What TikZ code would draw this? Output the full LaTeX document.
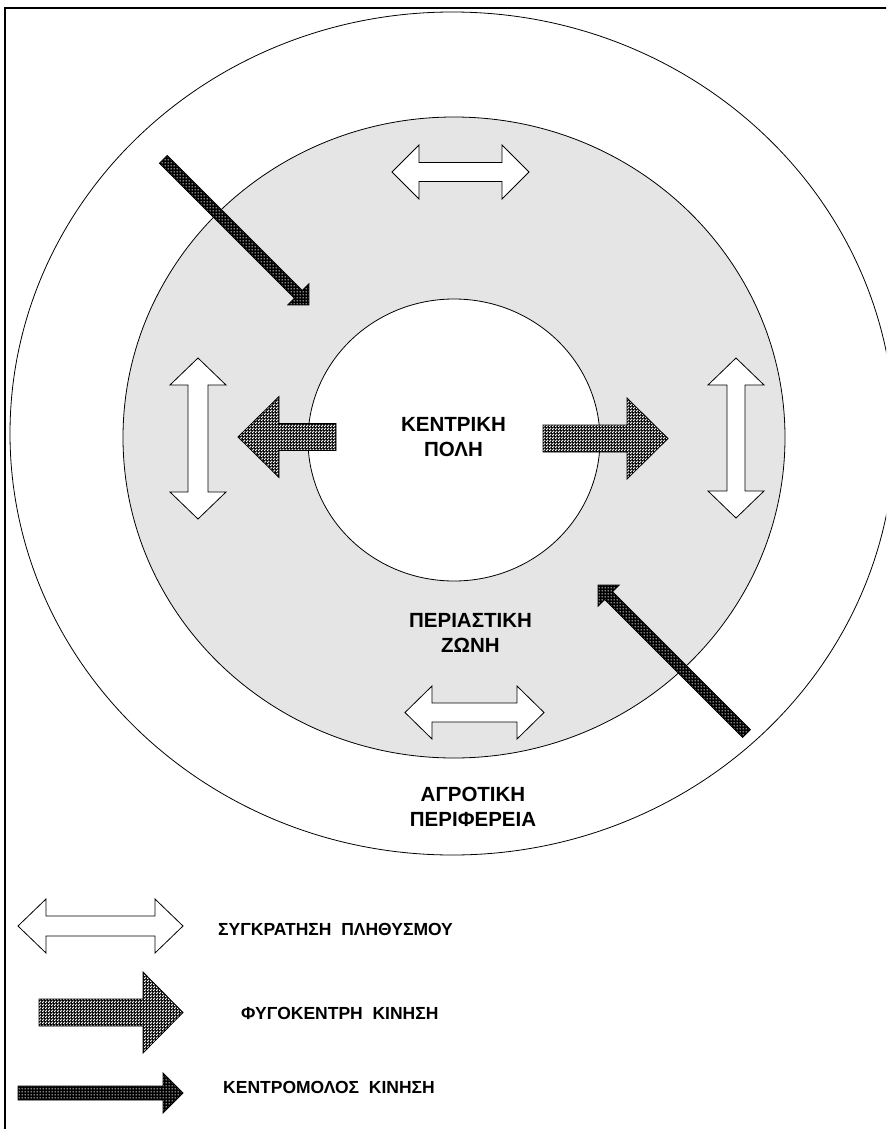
\documentclass[tikz,border=0pt]{standalone}
\usepackage{fontspec}
\setmainfont{Liberation Sans}
\usetikzlibrary{patterns,shapes.geometric}

% open diagonal chequer for outward movement
\pgfdeclarepatternformonly{lightcheck}{\pgfqpoint{0pt}{0pt}}{\pgfqpoint{3pt}{3pt}}{\pgfqpoint{3pt}{3pt}}{%
  \pgfpathcircle{\pgfqpoint{0.75pt}{0.75pt}}{1.0pt}%
  \pgfpathcircle{\pgfqpoint{2.25pt}{2.25pt}}{1.0pt}%
  \pgfusepath{fill}}
% dense dark screen for inward movement
\pgfdeclarepatternformonly{darkcheck}{\pgfqpoint{0pt}{0pt}}{\pgfqpoint{2.6pt}{2.6pt}}{\pgfqpoint{2.6pt}{2.6pt}}{%
  \pgfpathcircle{\pgfqpoint{1.3pt}{1.3pt}}{0.75pt}%
  \pgfusepath{fill}}

\definecolor{ringgray}{RGB}{229,229,229}

\tikzset{
  zone/.style={ellipse, draw=black, line width=0.8pt, inner sep=0pt},
  label/.style={font=\bfseries\fontsize{20.5}{25}\selectfont, align=center, inner sep=0pt},
  legendtext/.style={font=\bfseries\fontsize{17.5}{20}\selectfont, anchor=west, inner sep=0pt},
  holdarrow/.style={draw=black, line width=0.8pt, fill=white, line join=miter},
  outarrow/.style={draw=black, line width=0.8pt, preaction={fill=black}, pattern=lightcheck, pattern color=white},
  inarrow/.style={draw=black, line width=0.8pt, preaction={fill=black}, pattern=darkcheck, pattern color=white},
  % one-headed block arrow: style, length, shaft half-width, head half-width, head length
  pics/blockarrow/.style n args={5}{code={
    \path[#1] (0,-#3) -- ({#2-#5},-#3) -- ({#2-#5},-#4) -- (#2,0)
      -- ({#2-#5},#4) -- ({#2-#5},#3) -- (0,#3) -- cycle;
  }},
  % two-headed block arrow centred on its position
  pics/twinarrow/.style n args={4}{code={
    \path[holdarrow] ({-#1/2},0) -- ({-#1/2+#4},-#3) -- ({-#1/2+#4},-#2)
      -- ({#1/2-#4},-#2) -- ({#1/2-#4},-#3) -- ({#1/2},0) -- ({#1/2-#4},#3)
      -- ({#1/2-#4},#2) -- ({-#1/2+#4},#2) -- ({-#1/2+#4},#3) -- cycle;
  }},
}

\begin{document}
\begin{tikzpicture}[x=1pt,y=-1pt]
\useasboundingbox (0,0) rectangle (886,1129);
\clip (0,0) rectangle (886,1129);
\fill[white] (0,0) rectangle (886,1129);

% frame
\draw[line width=2.2pt] (5,1140) -- (5,8) -- (900,8);

% zones
\node[zone, minimum width=884.6pt, minimum height=843pt] (rural) at (452.3,433.5) {};
\node[zone, fill=ringgray, minimum width=662pt, minimum height=641pt] (ring) at (454,437.5) {};
\node[zone, fill=white, minimum width=292pt, minimum height=282pt] (city) at (454,440) {};

% population retention inside the ring
\pic (holdTop) at (460.5,172) {twinarrow={137}{9.5}{27}{27}};
\pic (holdBottom) at (474.5,712.5) {twinarrow={139}{9.5}{26.5}{27}};
\pic[rotate=90] (holdLeft) at (198,438.5) {twinarrow={161}{10}{28}{27}};
\pic[rotate=90] (holdRight) at (736,438) {twinarrow={160}{9}{28}{27}};

% outward movement from the city
\pic (outRight) at (543,438.5) {blockarrow={outarrow}{125}{13.5}{40.5}{41}};
\pic[rotate=180] (outLeft) at (336,437) {blockarrow={outarrow}{98}{13.5}{40.5}{41}};

% inward movement towards the city
\pic[rotate=-45] (inTop) at (163.3,159.3) {blockarrow={inarrow}{206}{5.5}{15}{15}};
\pic[rotate=135] (inBottom) at (746.5,733.5) {blockarrow={inarrow}{210}{5.5}{15}{15}};

% zone names
\node[label] (cityName) at (453.5,437.5) {ΚΕΝΤΡΙΚΗ\\ΠΟΛΗ};
\node[label] (ringName) at (470.5,632.5) {ΠΕΡΙΑΣΤΙΚΗ\\ΖΩΝΗ};
\node[label] (ruralName) at (473,807) {ΑΓΡΟΤΙΚΗ\\ΠΕΡΙΦΕΡΕΙΑ};

% legend
\pic (keyHold) at (100.5,926) {twinarrow={165}{10}{27}{28}};
\pic (keyOut) at (39,1012.5) {blockarrow={outarrow}{144}{13.5}{40.5}{40}};
\pic (keyIn) at (18,1093) {blockarrow={inarrow}{165}{7}{20}{20}};
\node[legendtext] (keyHoldText) at (218,929.5) {ΣΥΓΚΡΑΤΗΣΗ\ \ ΠΛΗΘΥΣΜΟΥ};
\node[legendtext] (keyOutText) at (241,1013.5) {ΦΥΓΟΚΕΝΤΡΗ\ \ ΚΙΝΗΣΗ};
\node[legendtext] (keyInText) at (223,1087) {ΚΕΝΤΡΟΜΟΛΟΣ\ \ ΚΙΝΗΣΗ};
\end{tikzpicture}
\end{document}
